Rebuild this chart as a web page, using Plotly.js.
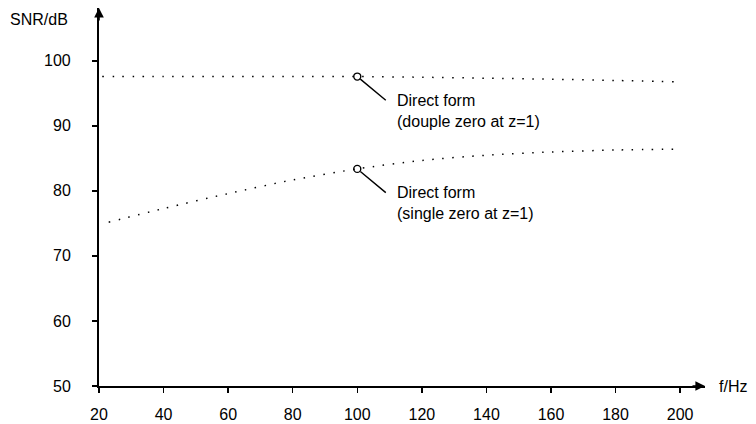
<!DOCTYPE html>
<html>
<head>
<meta charset="utf-8">
<script src="https://cdn.plot.ly/plotly-3.0.1.min.js"></script>
<style>html,body{margin:0;padding:0;background:#fff;}#chart{width:756px;height:424px;}</style>
</head>
<body>
<div id="chart"></div>
<script>
// Data
const doubleZeroF   = [21, 40, 60, 80, 100, 120, 140, 160, 180, 198];
const doubleZeroSNR = [97.6, 97.6, 97.6, 97.6, 97.6, 97.5, 97.35, 97.2, 97.0, 96.8];
const singleZeroF   = [23, 40, 60, 80, 100, 120, 140, 160, 180, 200];
const singleZeroSNR = [75.2, 77.3, 79.6, 81.7, 83.4, 84.7, 85.5, 86.0, 86.3, 86.45];
const markerF = [100];
const markerDouble = [97.6];
const markerSingle = [83.4];
const xTicks = [20, 40, 60, 80, 100, 120, 140, 160, 180, 200];
const yTicks = [50, 60, 70, 80, 90, 100];
const labelDouble = 'Direct form<br>(douple zero at z=1)';
const labelSingle = 'Direct form<br>(single zero at z=1)';

const font = {family: 'Liberation Sans, Arial, sans-serif', size: 16, color: '#000'};
const dotLine = {color: '#000', width: 1.5, dash: '1.5px,8.5px', shape: 'spline', smoothing: 0.8};

const traces = [
  {x: doubleZeroF, y: doubleZeroSNR, mode: 'lines', line: dotLine, hoverinfo: 'skip'},
  {x: singleZeroF, y: singleZeroSNR, mode: 'lines', line: dotLine, hoverinfo: 'skip'},
  {x: markerF.concat(markerF), y: markerDouble.concat(markerSingle), mode: 'markers',
   marker: {symbol: 'circle-open', size: 7, color: '#000', line: {width: 1.4, color: '#000'}}, hoverinfo: 'skip'}
];

function leader(x, y) {
  return {x: x, y: y, xref: 'x', yref: 'y', text: '', showarrow: true, arrowhead: 0,
          arrowwidth: 1.4, arrowcolor: '#000', ax: 30, ay: 25, standoff: 4};
}
function label(x, y, t) {
  return {x: x, y: y, xref: 'x', yref: 'y', text: t, showarrow: false, xanchor: 'left',
          yanchor: 'middle', align: 'left', xshift: 38, yshift: -34, font: font};
}

const yTickLabels = yTicks.map(v => ({
  xref: 'paper', yref: 'y', x: 0, y: v, xanchor: 'right', yanchor: 'middle',
  xshift: -26, text: String(v), showarrow: false, font: font
}));

const layout = {
  width: 756, height: 424,
  margin: {l: 99, r: 51, t: 8, b: 38},
  paper_bgcolor: '#fff', plot_bgcolor: '#fff',
  showlegend: false,
  font: font,
  xaxis: {range: [20, 207.7], tickvals: xTicks, ticktext: xTicks.map(String),
          ticks: 'outside', ticklen: 5, tickwidth: 1.4, tickcolor: '#000',
          showline: true, linecolor: '#000', linewidth: 1.6, showgrid: false, zeroline: false,
          ticklabelstandoff: 8, tickfont: font, fixedrange: true},
  yaxis: {range: [50, 108.15], tickvals: yTicks, showticklabels: false,
          ticks: 'outside', ticklen: 5, tickwidth: 1.4, tickcolor: '#000',
          showline: true, linecolor: '#000', linewidth: 1.6, showgrid: false, zeroline: false,
          fixedrange: true},
  annotations: [
    leader(markerF[0], markerDouble[0]),
    leader(markerF[0], markerSingle[0]),
    label(markerF[0], markerDouble[0], labelDouble),
    label(markerF[0], markerSingle[0], labelSingle),
    // axis arrowheads
    {xref: 'paper', yref: 'paper', x: 1, y: 0, ax: -14, ay: 0, text: '', showarrow: true,
     arrowhead: 2, arrowsize: 1.2, arrowwidth: 1.6, arrowcolor: '#000'},
    {xref: 'paper', yref: 'paper', x: 0, y: 1, ax: 0, ay: 14, text: '', showarrow: true,
     arrowhead: 2, arrowsize: 1.2, arrowwidth: 1.6, arrowcolor: '#000'},
    // axis titles
    {xref: 'paper', yref: 'paper', x: 1, y: 0, xanchor: 'left', yanchor: 'middle', xshift: 12,
     text: 'f/Hz', showarrow: false, font: font},
    {xref: 'paper', yref: 'paper', x: 0, y: 1, xanchor: 'right', yanchor: 'middle', xshift: -29, yshift: -11,
     text: 'SNR/dB', showarrow: false, font: font}
  ].concat(yTickLabels)
};

Plotly.newPlot('chart', traces, layout, {staticPlot: true, displayModeBar: false});
</script>
</body>
</html>
